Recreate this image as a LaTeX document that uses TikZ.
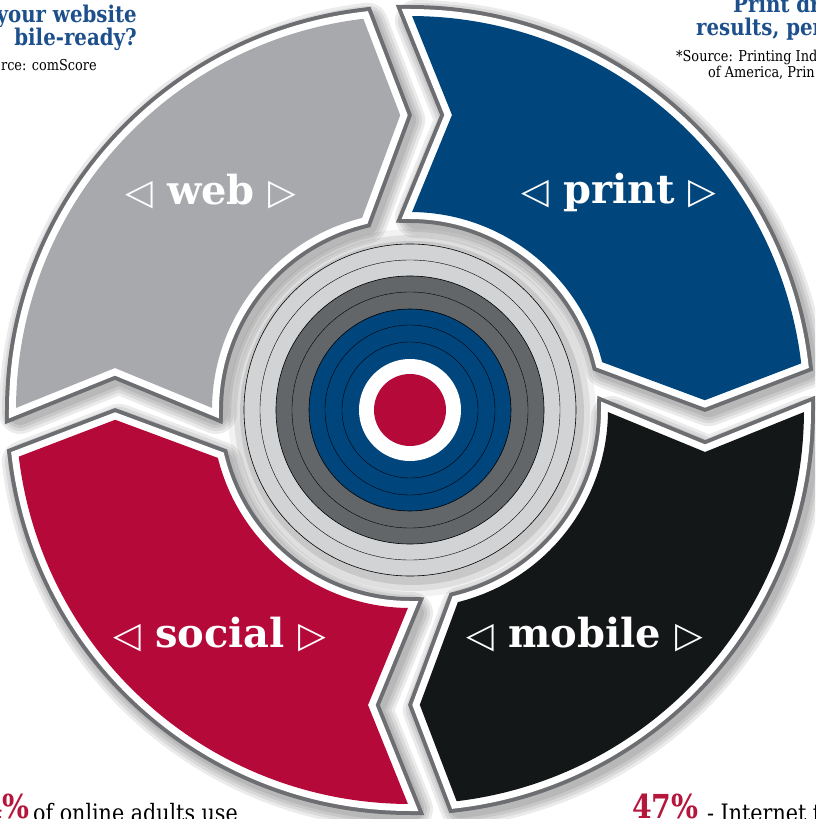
\documentclass[tikz,border=0pt]{standalone}
\usepackage{fontspec}
\setmainfont{DejaVu Serif}[FakeStretch=0.86]
\newfontfamily\labelfont{DejaVu Serif}
\newfontfamily\symfont{DejaVu Sans}

\definecolor{webgray}{RGB}{167,169,172}
\definecolor{printblue}{RGB}{0,69,124}
\definecolor{mobileblack}{RGB}{19,23,24}
\definecolor{socialred}{RGB}{181,9,58}
\definecolor{outlinegray}{RGB}{109,110,113}
\definecolor{ringlight}{RGB}{209,211,212}
\definecolor{ringdark}{RGB}{99,102,104}
\definecolor{headblue}{RGB}{28,79,140}
\definecolor{pctred}{RGB}{181,22,59}

\tikzset{
  segment/.style={preaction={draw=outlinegray,line width=22pt,line join=miter},
                  preaction={draw=white,line width=14pt,line join=miter},fill=#1},
  segshadow/.style={draw=black,line width=#1pt,opacity=0.08,line join=round},
  seglabel/.style={text=white,font=\labelfont\bfseries\fontsize{40}{40}\selectfont,inner sep=0pt},
  ring/.style={draw=black,line width=0.6pt,fill=#1},
  thinring/.style={draw=black,line width=0.4pt},
  headtext/.style={text=headblue,font=\bfseries\fontsize{23}{23}\selectfont,inner sep=0pt},
  notetext/.style={font=\fontsize{15}{15}\selectfont,inner sep=0pt},
  pcttext/.style={text=pctred,font=\bfseries\fontsize{33}{33}\selectfont,inner sep=0pt},
  bodytext/.style={font=\fontsize{24}{24}\selectfont,inner sep=0pt},
}

%% one arrow segment of the cycle (the print one; the others are turned)
\newcommand{\segpath}{(89.7:394) arc[start angle=89.7,end angle=6.8,radius=394]
  -- (1.9:295) -- (14:198) arc[start angle=14,end angle=89.4,radius=198]
  -- (81.9:298) -- cycle}
\newcommand{\tril}{{\symfont\mdseries\fontsize{36}{36}\selectfont ◁}}
\newcommand{\trir}{{\symfont\mdseries\fontsize{36}{36}\selectfont ▷}}

\begin{document}
\begin{tikzpicture}[x=1pt,y=1pt]
  \useasboundingbox (-410,-409) rectangle (405,410);
  \clip (-410,-409) rectangle (405,410);
  %% Shadows
  \foreach \rot in {0,-90,-180,-270}{
    \foreach \w in {24,30,36,42}
      \draw[segshadow=\w,shift={(4,-5)},rotate=\rot] \segpath;
  }
  \foreach \r/\o in {184/0.05,178/0.08,172/0.1}
    \fill[black,opacity=\o] (2,-3) circle (\r);
  %% Segments
  \foreach \rot/\col in {0/printblue,-90/mobileblack,-180/socialred,-270/webgray}
    \path[segment=\col,rotate=\rot] \segpath;
  %% Target
  \draw[ring=ringlight] (0,0) circle (166);
  \draw[thinring] (0,0) circle (150);
  \draw[ring=ringdark] (0,0) circle (134);
  \draw[thinring] (0,0) circle (118);
  \draw[ring=printblue] (0,0) circle (101);
  \draw[thinring] (0,0) circle (85);
  \draw[thinring] (0,0) circle (68);
  \fill[white] (0,0) circle (51);
  \fill[socialred] (0,0) circle (36);
  %% Labels
  \node[seglabel] (webl) at (-199,218) {\tril\ web\ \trir};
  \node[seglabel] (printl) at (209,218) {\tril\ print\ \trir};
  \node[seglabel] (mobilel) at (175,-225) {\tril\ mobile\ \trir};
  \node[seglabel] (sociall) at (-190,-225) {\tril\ social\ \trir};
  %% Texts round the cycle
  \node[headtext,anchor=base east] (headweb1) at (-273,387) {your website};
  \node[headtext,anchor=base east] (headweb2) at (-273,364) {bile-ready?};
  \node[notetext,anchor=base east] (noteweb) at (-313,339) {rce: comScore};
  \node[headtext,anchor=base west] (headprint1) at (323,397) {Print dr};
  \node[headtext,anchor=base west] (headprint2) at (286,374) {results, per};
  \node[notetext,anchor=base west] (noteprint1) at (266,348) {*Source: Printing Ind};
  \node[notetext,anchor=base west] (noteprint2) at (298,332) {of America, Prin};
  \node[pcttext,anchor=base east] (pctsocial) at (-380,-408) {4\%};
  \node[bodytext,anchor=base west] (bodysocial) at (-377,-411) {of online adults use};
  \node[pcttext,anchor=base west] (pctmobile) at (222,-408) {47\%};
  \node[bodytext,anchor=base west] (bodymobile) at (297,-411) {- Internet tr};
\end{tikzpicture}
\end{document}
